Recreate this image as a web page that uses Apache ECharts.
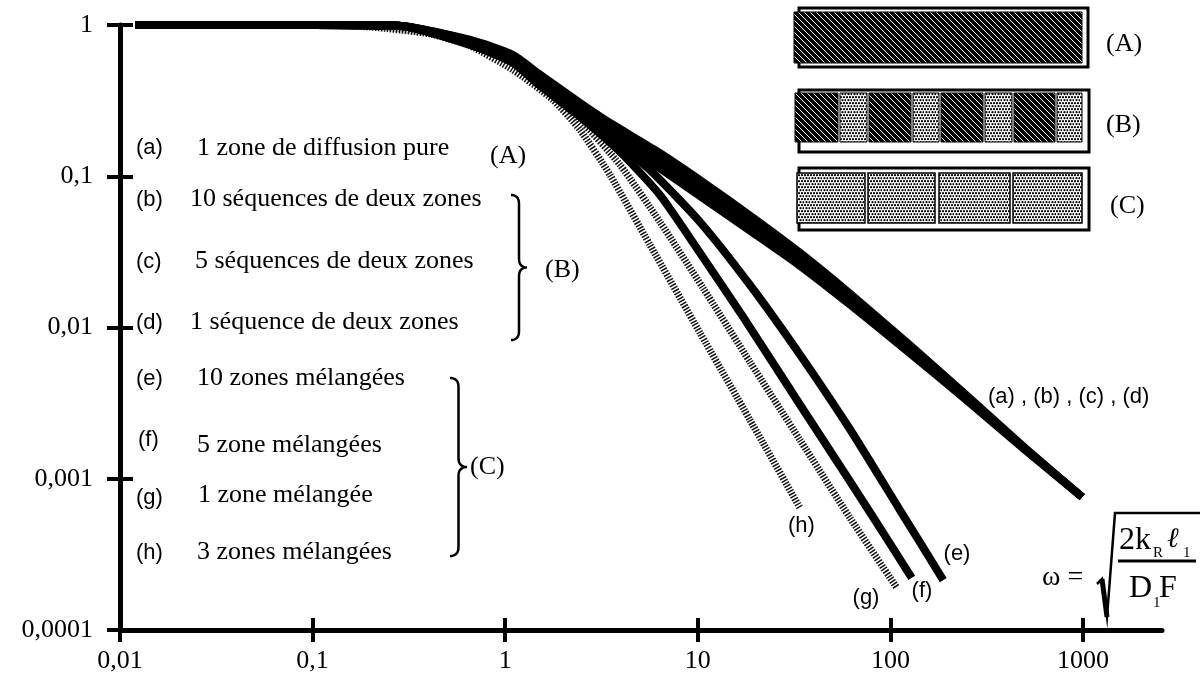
<!DOCTYPE html>
<html><head><meta charset="utf-8">
<script src="https://cdn.jsdelivr.net/npm/echarts@6/dist/echarts.min.js"></script>
<style>html,body{margin:0;padding:0;background:#fff}#c{width:1204px;height:675px}</style>
</head><body><div id="c"></div>
<script>
// ---- data ----
const xTickLabels = ['0,01','0,1','1','10','100','1000'];
const yTickLabels = ['0,0001','0,001','0,01','0,1','1'];

const omegaBand = [0.012,0.1,0.28,0.66,1.1,1.5,2.45,3.5,6.1,10.6,19.4,34,62,126,244,500,990];
const curveA = [1,1,0.99,0.796,0.633,0.474,0.305,0.225,0.1469,0.0916,0.053,0.0311,0.01665,0.00766,0.00363,0.0016,0.000757];
const curveB = [1,1,0.99,0.787,0.621,0.46,0.2913,0.2116,0.1361,0.0845,0.0491,0.0291,0.01574,0.00735,0.00354,0.00158,0.000757];
const curveC = [1,1,0.99,0.78,0.608,0.4463,0.2783,0.1991,0.1261,0.0778,0.0455,0.0272,0.0149,0.00707,0.003455,0.001565,0.000757];
const curveD = [1,1,0.99,0.772,0.5957,0.4329,0.2659,0.1874,0.1169,0.0718,0.04215,0.02551,0.01409,0.00678,0.003367,0.00155,0.000757];

const omegaE = [0.012,0.1,0.28,0.66,1.1,1.5,2.45,3.5,5.65,10.27,18.66,34,62,112,188];
const curveE = [1,1,0.99,0.7489,0.578,0.42,0.258,0.1817,0.11,0.0498,0.0191,0.00658,0.0021,0.000621,0.000214];

const omegaF = [0.012,0.1,0.28,0.66,1.1,1.5,2.45,3.95,6.36,10.27,17.2,34,62,103,129];
const curveF = [1,1,0.99,0.7377,0.5607,0.4012,0.2464,0.1447,0.0752,0.0311,0.01173,0.003073,0.000952,0.000348,0.000221];

const omegaG = [0.012,0.1,0.232,0.407,0.657,1.098,1.516,2.446,3.947,6.363,10.64,18.66,33.94,61.7,108.2];
const curveG = [1,1,0.97,0.885,0.7489,0.5607,0.42,0.2354,0.1187,0.0498,0.01825,0.00591,0.001804,0.00055,0.0001895];

const omegaH = [0.012,0.1,0.2,0.407,0.657,1.098,1.771,2.446,3.501,5.646,10.27,18.66,33.94];
const curveH = [1,1,0.97,0.872,0.7264,0.504,0.3192,0.2021,0.1019,0.0351,0.0092,0.002446,0.00064];

// ---- helpers ----
const SERIF = '"Liberation Serif", "Times New Roman", serif';
const SANS = '"Liberation Sans", Arial, sans-serif';
function pairs(xs, ys){ return xs.map((x,i)=>[x, ys[i]]); }

function makeHatch(){
  const c=document.createElement('canvas'); c.width=6; c.height=6;
  const g=c.getContext('2d'); g.fillStyle='#000'; g.fillRect(0,0,6,6);
  g.strokeStyle='#fff'; g.lineWidth=1.0; g.beginPath();
  g.moveTo(-1,-1); g.lineTo(7,7); g.moveTo(-1,5); g.lineTo(1,7); g.moveTo(5,-1); g.lineTo(7,1);
  g.stroke(); return c;
}
function makeDots(){
  const c=document.createElement('canvas'); c.width=6; c.height=6;
  const g=c.getContext('2d'); g.fillStyle='#fff'; g.fillRect(0,0,6,6);
  g.fillStyle='#000';
  [[1,1.2],[4,1.2],[2.5,4.2],[5.5,4.2]].forEach(p=>{g.beginPath(); g.arc(p[0],p[1],1.1,0,Math.PI*2); g.fill();});
  return c;
}
const hatch = {image: makeHatch(), repeat:'repeat'};
const dots = {image: makeDots(), repeat:'repeat'};

function bracePts(x0,y0,y1,w){
  const xm=x0+w*0.5, ym=(y0+y1)/2, r=9, pts=[];
  function quad(p0,c,p1){ for(let t=0;t<=1.0001;t+=0.1){ const a=1-t; pts.push([a*a*p0[0]+2*a*t*c[0]+t*t*p1[0], a*a*p0[1]+2*a*t*c[1]+t*t*p1[1]]); } }
  quad([x0,y0],[xm,y0],[xm,y0+r]);
  pts.push([xm,ym-r]);
  quad([xm,ym-r],[xm,ym],[x0+w,ym]);
  quad([x0+w,ym],[xm,ym],[xm,ym+r]);
  pts.push([xm,y1-r]);
  quad([xm,y1-r],[xm,y1],[x0,y1]);
  return pts;
}

function txt(text,x,y,font,align){ return {type:'text', silent:true, style:{text:text, x:x, y:y, font:font, fill:'#000', textAlign:align||'left', textVerticalAlign:'middle'}}; }
function rect(x,y,w,h,fill,stroke,lw){ return {type:'rect', silent:true, shape:{x:x,y:y,width:w,height:h}, style:{fill:fill, stroke:stroke||null, lineWidth:lw||0}}; }

const elements = [];
// left annotations
const sans22 = '22px ' + SANS, serif26 = '26px ' + SERIF;
[['(a)',136,148,'1 zone de diffusion pure',197,148],
 ['(b)',136,200,'10 séquences de deux zones',190,199],
 ['(c)',136,262,'5 séquences de deux zones',195,261],
 ['(d)',136,323,'1 séquence de deux zones',190,322],
 ['(e)',136,379,'10 zones mélangées',197,378],
 ['(f)',138,440,'5 zone mélangées',197,445],
 ['(g)',136,498,'1 zone mélangée',198,495],
 ['(h)',136,553,'3 zones mélangées',197,552]].forEach(r=>{
  elements.push(txt(r[0],r[1],r[2],sans22));
  elements.push(txt(r[3],r[4],r[5],serif26));
});
elements.push(txt('(A)',490,156,serif26));
elements.push(txt('(B)',545,270,serif26));
elements.push(txt('(C)',470,467,serif26));
elements.push({type:'polyline', silent:true, shape:{points:bracePts(511,195,340,16)}, style:{stroke:'#000', lineWidth:2.5, fill:null}});
elements.push({type:'polyline', silent:true, shape:{points:bracePts(450,378,556,17)}, style:{stroke:'#000', lineWidth:2.5, fill:null}});

// curve labels
elements.push(txt('(h)',788,526,sans22));
elements.push(txt('(g)',866,598,sans22,'center'));
elements.push(txt('(f)',922,591,sans22,'center'));
elements.push(txt('(e)',957,554,sans22,'center'));
elements.push(txt('(a) , (b) , (c) , (d)',988,397,sans22));

// boxes
elements.push(rect(799,8,289,59,'#fff','#000',3));
elements.push(rect(794,12,288,51,hatch,'#000',1));
elements.push(txt('(A)',1106,44,serif26));

elements.push(rect(799,90,290,62,'#fff','#000',3));
[[795,838,hatch],[840,867,dots],[869,911,hatch],[913,939,dots],[941,983,hatch],[985,1012,dots],[1014,1055,hatch],[1057,1082,dots]].forEach(s=>{
  elements.push(rect(s[0],93,s[1]-s[0],49,s[2],'#000',1));
});
elements.push(txt('(B)',1106,125,serif26));

elements.push(rect(799,168,290,62,'#fff','#000',3));
[[797,865],[868,935],[939,1010],[1013,1082]].forEach(s=>{
  elements.push(rect(s[0],173,s[1]-s[0],50,dots,'#000',1.5));
});
elements.push(txt('(C)',1110,206,serif26));

// formula
elements.push(txt('ω =',1042,578,'28px ' + SERIF));
elements.push({type:'polyline', silent:true, shape:{points:[[1097,584],[1102,579],[1107,617],[1115,513],[1200,513]]}, style:{stroke:'#000', lineWidth:2.5, fill:null}});
elements.push({type:'polyline', silent:true, shape:{points:[[1102,579],[1107,617]]}, style:{stroke:'#000', lineWidth:5, fill:null}});
elements.push(txt('2k',1119,541,'32px ' + SERIF));
elements.push(txt('R',1153,553,'15px ' + SERIF));
elements.push(txt('ℓ',1167,540,'italic 28px ' + SERIF));
elements.push(txt('1',1183,553,'15px ' + SERIF));
elements.push({type:'line', silent:true, shape:{x1:1118,y1:561,x2:1196,y2:561}, style:{stroke:'#000', lineWidth:3}});
elements.push(txt('D',1129,589,'32px ' + SERIF));
elements.push(txt('1',1153,603,'15px ' + SERIF));
elements.push(txt('F',1159,589,'32px ' + SERIF));

function blackLine(name, xs, ys, w){
  return {name:name, type:'line', xAxisIndex:0, yAxisIndex:0, data:pairs(xs,ys), showSymbol:false, symbol:'none',
    smooth:0.2, silent:true, z:3,
    lineStyle:{color:'#000', width:w, cap:'butt', join:'round'}};
}
function hatchLine(name, xs, ys){
  return {name:name, type:'line', xAxisIndex:0, yAxisIndex:0, data:pairs(xs,ys), showSymbol:false, symbol:'none',
    smooth:0.2, silent:true, z:2,
    lineStyle:{color:'#111', width:7, type:[1.5,1.5], cap:'butt', join:'round'}};
}

const chart = echarts.init(document.getElementById('c'), null, {renderer:'canvas'});
chart.setOption({
  animation:false,
  backgroundColor:'#fff',
  grid:[{left:120,right:42,top:25,bottom:45},{left:120,right:121,top:25,bottom:45}],
  xAxis:[
    {type:'log', gridIndex:0, min:0.01, max:2570, logBase:10,
     axisLine:{show:true, onZero:false, lineStyle:{color:'#000', width:5}},
     axisTick:{show:false}, axisLabel:{show:false}, splitLine:{show:false}},
    {type:'log', gridIndex:1, min:0.01, max:1000, logBase:10, offset:-12,
     axisLine:{show:false, onZero:false},
     axisTick:{show:true, length:24, lineStyle:{color:'#000', width:4}},
     axisLabel:{margin:30, fontFamily:SERIF, fontSize:26, color:'#000',
       formatter:v=>xTickLabels[Math.round(Math.log10(v))+2]},
     splitLine:{show:false}}
  ],
  yAxis:[
    {type:'log', gridIndex:0, min:0.0001, max:1, logBase:10,
     axisLine:{show:true, onZero:false, lineStyle:{color:'#000', width:5}},
     axisTick:{show:false}, axisLabel:{show:false}, splitLine:{show:false}},
    {type:'log', gridIndex:1, min:0.0001, max:1, logBase:10, offset:-13,
     axisLine:{show:false, onZero:false},
     axisTick:{show:true, length:26, lineStyle:{color:'#000', width:4}},
     axisLabel:{margin:40, fontFamily:SERIF, fontSize:26, color:'#000',
       formatter:v=>yTickLabels[Math.round(Math.log10(v))+4]},
     splitLine:{show:false}}
  ],
  graphic: elements,
  series:[
    hatchLine('h', omegaH, curveH),
    hatchLine('g', omegaG, curveG),
    blackLine('a', omegaBand, curveA, 8),
    blackLine('b', omegaBand, curveB, 8),
    blackLine('c', omegaBand, curveC, 8),
    blackLine('d', omegaBand, curveD, 8),
    blackLine('e', omegaE, curveE, 8),
    blackLine('f', omegaF, curveF, 8)
  ]
});
</script>
</body></html>
